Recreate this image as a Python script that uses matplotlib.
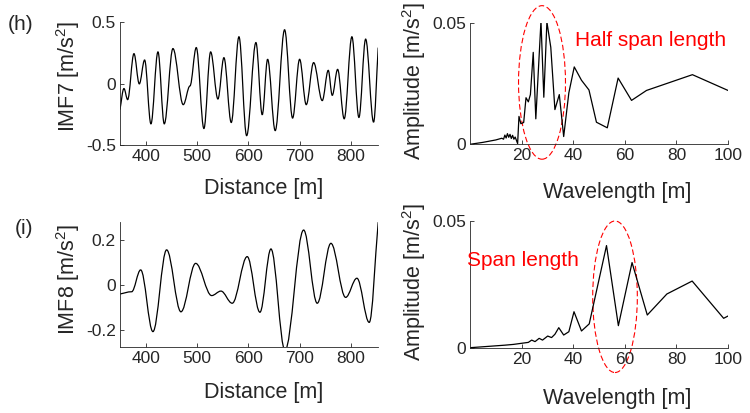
import matplotlib
matplotlib.use("Agg")
import matplotlib.pyplot as plt
from matplotlib.patches import Ellipse, PathPatch
from matplotlib.path import Path

plt.rcParams['font.family'] = ['Liberation Sans', 'DejaVu Sans']
plt.rcParams['mathtext.fontset'] = 'custom'
plt.rcParams['mathtext.rm'] = 'Liberation Sans'
plt.rcParams['mathtext.it'] = 'Liberation Sans:italic'
plt.rcParams['axes.unicode_minus'] = False

# IMF7 (extrema)
imf7_x = [349.9, 357.7, 364.9, 377.2, 387.6, 398.0, 410.3, 424.0, 436.3, 453.2,
          473.3, 486.4, 498.7, 513.6, 526.7, 540.9, 552.6, 566.9, 581.9, 596.9,
          615.0, 627.3, 637.8, 652.6, 670.9, 686.5, 700.2, 713.1, 727.5, 744.3,
          756.0, 763.8, 774.3, 787.1, 802.1, 815.8, 828.9, 844.4, 853.4]
imf7_y = [-0.213, -0.041, -0.131, 0.243, -0.003, 0.191, -0.328, 0.257, -0.328, 0.284,
          -0.172, -0.020, 0.292, -0.366, 0.257, -0.126, 0.210, -0.317, 0.380, -0.424,
          0.333, -0.254, 0.197, -0.383, 0.437, -0.281, 0.197, -0.172, 0.170, -0.139,
          0.107, -0.096, 0.115, -0.287, 0.380, -0.276, 0.361, -0.314, 0.292]

# IMF8
imf8_x = [349.9, 372.7, 390.3, 414.2, 440.9, 468.8, 497.5, 528.7, 546.8, 568.8,
          598.0, 622.8, 644.3, 671.6, 708.0, 734.5, 761.2, 789.9, 811.9, 835.9, 853.4]
imf8_y = [-0.040, -0.030, 0.067, -0.207, 0.156, -0.119, 0.096, -0.047, -0.027, -0.081,
          0.126, -0.121, 0.160, -0.290, 0.244, -0.081, 0.185, -0.055, 0.030, -0.166, 0.279]

# spectrum of IMF7
wl7 = [0, 5, 10, 12.3, 13.0, 13.5, 14.0, 14.5, 15.0, 15.5, 16.0, 16.5, 17.0, 17.5,
       18.45, 18.97, 19.7, 20.8, 21.7, 22.6, 23.4, 24.5, 25.5, 27.5, 28.6, 29.8,
       31.3, 32.9, 34.6, 36.3, 38.3, 40.4, 43.2, 46.1, 49.0, 53.2, 57.4, 62.6, 68.4,
       86.2, 100]
amp7 = [0, 0.0008, 0.0018, 0.0025, 0.0021, 0.0038, 0.0026, 0.0044, 0.0029, 0.0041,
        0.0024, 0.0037, 0.0021, 0.0030, 0.0003, 0.0115, 0.0085, 0.0090, 0.0192, 0.0175,
        0.0205, 0.0379, 0.0105, 0.0508, 0.0194, 0.0504, 0.0400, 0.0143, 0.0205, 0.0032,
        0.0212, 0.0319, 0.0264, 0.0224, 0.0091, 0.0068, 0.0273, 0.0181, 0.0222, 0.0287,
        0.0222]

# spectrum of IMF8
wl8 = [0, 13.5, 16.8, 22.6, 23.9, 25.2, 26.8, 28.1, 30.1, 31.6, 32.9, 34.4, 36.3,
       38.3, 40.3, 43.2, 46.2, 52.9, 57.5, 62.8, 68.7, 76.3, 86.1, 98.3, 100]
amp8 = [0, 0.0010, 0.0013, 0.0021, 0.0030, 0.0024, 0.0037, 0.0030, 0.0046, 0.0040,
        0.0053, 0.0079, 0.0050, 0.0063, 0.0142, 0.0066, 0.0094, 0.0403, 0.0087, 0.0336,
        0.0129, 0.0212, 0.0263, 0.0116, 0.0125]

gray = (0.15, 0.15, 0.15)
fig = plt.figure(figsize=(7.5, 4.13), dpi=100)


def smooth_wave(ax, xs, ys):
    # bezier between extrema, flat tangent at each extremum (ends follow the chord)
    verts = [(xs[0], ys[0])]
    codes = [Path.MOVETO]
    n = len(xs)
    for i in range(n - 1):
        d = (xs[i + 1] - xs[i]) * 0.36
        if i == 0:
            c1 = (xs[i] + d, ys[i] + (ys[i + 1] - ys[i]) * 0.36)
        else:
            c1 = (xs[i] + d, ys[i])
        if i == n - 2:
            c2 = (xs[i + 1] - d, ys[i + 1] - (ys[i + 1] - ys[i]) * 0.36)
        else:
            c2 = (xs[i + 1] - d, ys[i + 1])
        verts += [c1, c2, (xs[i + 1], ys[i + 1])]
        codes += [Path.CURVE4] * 3
    ax.add_patch(PathPatch(Path(verts, codes), fill=False, ec='k', lw=0.9))


def style(ax):
    for s in ['top', 'right']:
        ax.spines[s].set_visible(False)
    for s in ['left', 'bottom']:
        ax.spines[s].set_color(gray)
        ax.spines[s].set_linewidth(0.6)
    ax.tick_params(direction='in', length=3, width=0.6, colors=gray,
                   labelsize=12.5, pad=3)
    ax.xaxis.label.set_va('center')


ax1 = fig.add_axes([0.16, 0.6489, 0.344, 0.2978])
smooth_wave(ax1, imf7_x, imf7_y)
ax1.set_xlim(350, 853)
ax1.set_ylim(-0.5, 0.5)
ax1.set_xticks([400, 500, 600, 700, 800])
ax1.set_yticks([-0.5, 0, 0.5])
ax1.set_yticklabels(['-0.5', '0', '0.5'])
ax1.set_xlabel('Distance [m]', fontsize=15.5, color=gray)
ax1.set_ylabel('IMF7 [m/s$^2$]', fontsize=15.5, color=gray)
ax1.xaxis.set_label_coords(0.558, -0.35)
ax1.yaxis.set_label_coords(-0.147, 0.555)
style(ax1)

ax2 = fig.add_axes([0.6267, 0.6506, 0.344, 0.2937])
ax2.plot(wl7, amp7, color='k', lw=0.9)
ax2.set_xlim(0, 100)
ax2.set_ylim(0, 0.05)
ax2.set_xticks([20, 40, 60, 80, 100])
ax2.set_yticks([0, 0.05])
ax2.set_yticklabels(['0', '0.05'])
ax2.set_xlabel('Wavelength [m]', fontsize=15.5, color=gray)
ax2.set_ylabel('Amplitude [m/s$^2$]', fontsize=15.5, color=gray)
ax2.xaxis.set_label_coords(0.572, -0.40)
ax2.yaxis.set_label_coords(-0.163, 0.525)
ax2.add_patch(Ellipse((27.9, 0.0255), 18.2, 0.0633, fill=False, ec='red',
                      ls=(0, (5, 2.5)), lw=0.8, clip_on=False))
ax2.text(40.6, 0.0426, 'Half span length', color='red', fontsize=15,
         ha='left', va='center')
style(ax2)

ax3 = fig.add_axes([0.16, 0.1605, 0.344, 0.3027])
smooth_wave(ax3, imf8_x, imf8_y)
ax3.set_xlim(350, 853)
ax3.set_ylim(-0.274, 0.281)
ax3.set_xticks([400, 500, 600, 700, 800])
ax3.set_yticks([-0.2, 0, 0.2])
ax3.set_yticklabels(['-0.2', '0', '0.2'])
ax3.set_xlabel('Distance [m]', fontsize=15.5, color=gray)
ax3.set_ylabel('IMF8 [m/s$^2$]', fontsize=15.5, color=gray)
ax3.xaxis.set_label_coords(0.558, -0.368)
ax3.yaxis.set_label_coords(-0.147, 0.536)
style(ax3)

ax4 = fig.add_axes([0.6267, 0.1581, 0.344, 0.3068])
ax4.plot(wl8, amp8, color='k', lw=0.9)
ax4.set_xlim(0, 100)
ax4.set_ylim(0, 0.05)
ax4.set_xticks([20, 40, 60, 80, 100])
ax4.set_yticks([0, 0.05])
ax4.set_yticklabels(['0', '0.05'])
ax4.set_xlabel('Wavelength [m]', fontsize=15.5, color=gray)
ax4.set_ylabel('Amplitude [m/s$^2$]', fontsize=15.5, color=gray)
ax4.xaxis.set_label_coords(0.572, -0.397)
ax4.yaxis.set_label_coords(-0.163, 0.52)
ax4.add_patch(Ellipse((56.2, 0.0201), 17.3, 0.0598, fill=False, ec='red',
                      ls=(0, (5, 2.5)), lw=0.8, clip_on=False))
ax4.text(-1.2, 0.0346, 'Span length', color='red', fontsize=15,
         ha='left', va='center')
style(ax4)

fig.text(21 / 750, 1 - 24 / 413, '(h)', fontsize=15, color=gray, ha='center', va='center')
fig.text(24 / 750, 1 - 228 / 413, '(i)', fontsize=15, color=gray, ha='center', va='center')

fig.savefig('out.png', dpi=100)
